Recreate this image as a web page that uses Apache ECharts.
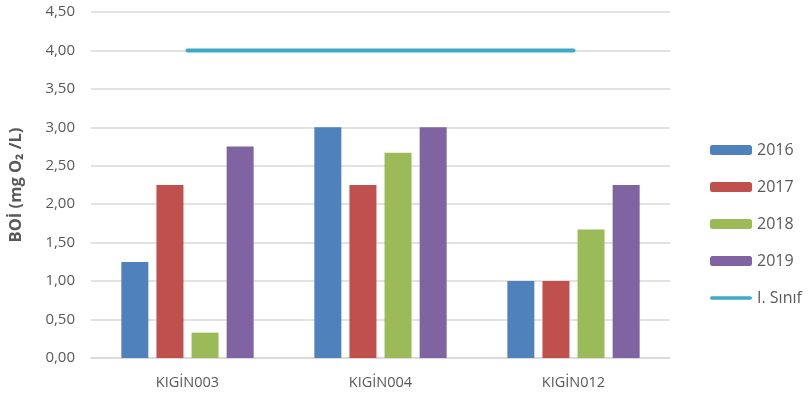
<!DOCTYPE html>
<html>
<head>
<meta charset="utf-8">
<script src="https://cdn.jsdelivr.net/npm/echarts@6/dist/echarts.min.js"></script>
<style>
html, body { margin: 0; padding: 0; background: #fff; }
#chart { width: 810px; height: 401px; }
</style>
</head>
<body>
<div id="chart"></div>
<script>
var stations = ['KIGİN003', 'KIGİN004', 'KIGİN012'];
var years = ['2016', '2017', '2018', '2019'];
var v2016 = [1.25, 3.00, 1.00];
var v2017 = [2.25, 2.25, 1.00];
var v2018 = [0.33, 2.67, 1.67];
var v2019 = [2.75, 3.00, 2.25];
var limitName = 'I. Sınıf';
var limit = [4.00, 4.00, 4.00];
var yTicks = { min: 0, max: 4.5, step: 0.5 };

var barColors = ['#4f81bd', '#c0504d', '#9bbb59', '#8064a2'];
var barValues = [v2016, v2017, v2018, v2019];
var lineColor = '#3fa9c6';
var font = 'Open Sans';

var myChart = echarts.init(document.getElementById('chart'));

var series = years.map(function (y, i) {
    return {
        name: y,
        type: 'bar',
        data: barValues[i],
        barWidth: 27,
        barGap: '30%',
        itemStyle: { color: barColors[i] }
    };
});
series.push({
    name: limitName,
    type: 'line',
    data: limit,
    symbol: 'none',
    lineStyle: { color: lineColor, width: 4, cap: 'round' },
    itemStyle: { color: lineColor }
});

// legend entries; the line gets a thin rounded bar icon like the original
var legendData = years.map(function (y) { return { name: y }; });
legendData.push({
    name: limitName,
    icon: 'path://M-2,0 M44,10 M0,3 L42,3 A2,2 0 0 1 42,7 L0,7 A2,2 0 0 1 0,3 Z',
    itemStyle: { color: lineColor }
});

option = {
    animation: false,
    grid: { left: 88, right: 140, top: 12, bottom: 43 },
    legend: {
        orient: 'vertical',
        left: 705,
        top: 137,
        itemWidth: 42,
        itemHeight: 10,
        itemGap: 21,
        textStyle: { color: '#595959', fontSize: 16, fontFamily: font },
        data: legendData
    },
    xAxis: {
        type: 'category',
        data: stations,
        axisLine: { lineStyle: { color: '#d9d9d9', width: 1.5 } },
        axisTick: { show: false },
        axisLabel: { color: '#595959', fontSize: 14.5, fontFamily: font, margin: 17 }
    },
    yAxis: {
        type: 'value',
        min: yTicks.min,
        max: yTicks.max,
        interval: yTicks.step,
        name: 'BOİ (mg O₂ /L)',
        nameLocation: 'middle',
        nameGap: 66,
        nameRotate: 90,
        nameTextStyle: { color: '#595959', fontSize: 16.5, fontWeight: 'bold', fontFamily: font },
        axisLine: { show: false },
        axisTick: { show: false },
        splitLine: { lineStyle: { color: '#d9d9d9', width: 1.5 } },
        axisLabel: {
            color: '#595959', fontSize: 15, fontFamily: font, margin: 16,
            formatter: function (v) { return v.toFixed(2).replace('.', ','); }
        }
    },
    series: series
};
myChart.setOption(option);
</script>
</body>
</html>
